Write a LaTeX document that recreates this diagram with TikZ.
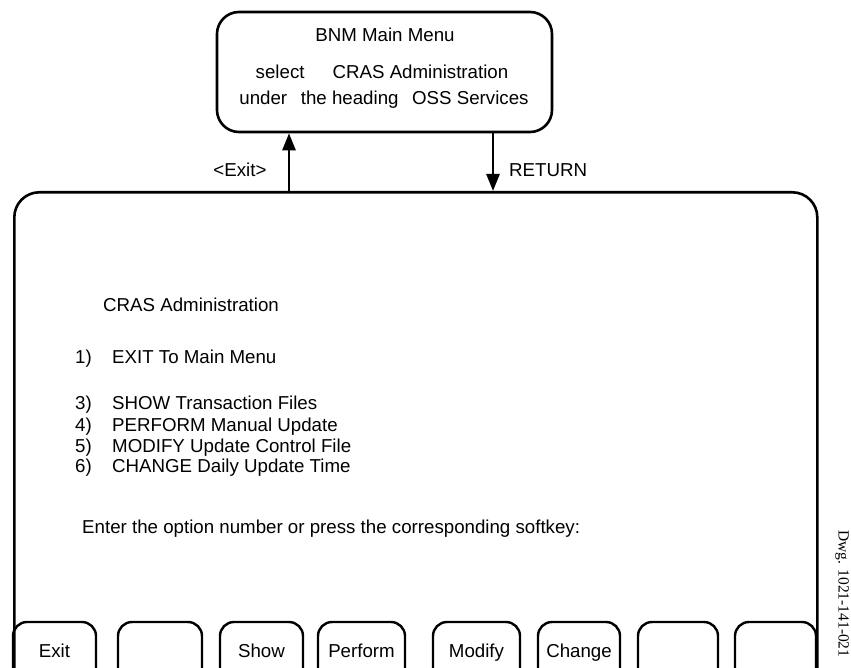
\documentclass[tikz,border=0pt]{standalone}
\usepackage{fontspec}
\setmainfont{Liberation Sans}
\newfontfamily\dwgfont{Liberation Serif}
\usetikzlibrary{arrows.meta}

\tikzset{
  box/.style={draw, line width=2.6pt, rounded corners=#1, inner sep=0pt},
  softkey/.style={draw, line width=2.4pt, rounded corners=14pt, inner sep=0pt, minimum height=68pt},
  txt/.style={inner sep=0pt, anchor=base west, font=\fontsize{18.7}{22}\selectfont},
  ctxt/.style={inner sep=0pt, anchor=base, font=\fontsize{18.7}{22}\selectfont},
  flow/.style={line width=2.6pt, -{Triangle[width=13pt,length=17pt]}}
}

\begin{document}
\begin{tikzpicture}[x=1pt,y=-1pt]
    % tamano de la figura
    \useasboundingbox (0,0) rectangle (851,668);
    \clip (0,0) rectangle (851,668);

    % menu principal
    \node[box=22pt, minimum width=335pt, minimum height=120pt] (menu) at (384.5,72) {};
    \node[ctxt] (menut) at (385,41.5) {BNM Main Menu};
    \node[ctxt] (menus) at (382,78.5) {select\hspace{1.5em}CRAS Administration};
    \node[ctxt] (menuu) at (384,104.5) {under\hspace{0.45em} the heading\hspace{0.45em} OSS Services};

    % pantalla
    \node[box=25pt, minimum width=803pt, minimum height=510pt, anchor=north west] (screen) at (13,191) {};

    % flechas entre menus
    \coordinate (upx) at (289,0);
    \coordinate (downx) at (493,0);
    \draw[flow] (screen.north -| upx) -- (menu.south -| upx);
    \draw[flow] (menu.south -| downx) -- (screen.north -| downx);
    \node[ctxt] (exitlbl) at (240,176.5) {<Exit>};
    \node[txt] (retlbl) at (509,176.5) {RETURN};

    % texto de la pantalla
    \node[txt] (title) at (103,311.5) {CRAS Administration};
    \foreach \n/\t/\y in {1/EXIT To Main Menu/363, 3/SHOW Transaction Files/409.5,
                          4/PERFORM Manual Update/431, 5/MODIFY Update Control File/452,
                          6/CHANGE Daily Update Time/472.5}{
      \node[txt] (num\n) at (75,\y) {\n)};
      \node[txt] (opt\n) at (112,\y) {\t};
    }
    \node[txt] (prompt) at (82,533.5) {Enter the option number or press the corresponding softkey:};

    % teclas
    \foreach \i/\a/\b/\lbl in {1/13/96/Exit, 2/118/202/, 3/220/303/Show, 4/318/405/Perform,
                               5/433/520/Modify, 6/538/620/Change, 7/638/718/, 8/735/816/}{
      \pgfmathsetmacro{\kw}{\b-\a}
      \pgfmathsetmacro{\kx}{(\a+\b)/2}
      \node[softkey, minimum width=\kw pt] (k\i) at (\kx,656) {};
      \node[ctxt] (kl\i) at (\kx,657.5) {\lbl};
    }

    % numero de dibujo
    \node[rotate=-90, inner sep=0pt, font=\dwgfont\fontsize{15.5}{18}\selectfont] (dwg) at (842,594) {Dwg. 1021-141-021};
\end{tikzpicture}
\end{document}
